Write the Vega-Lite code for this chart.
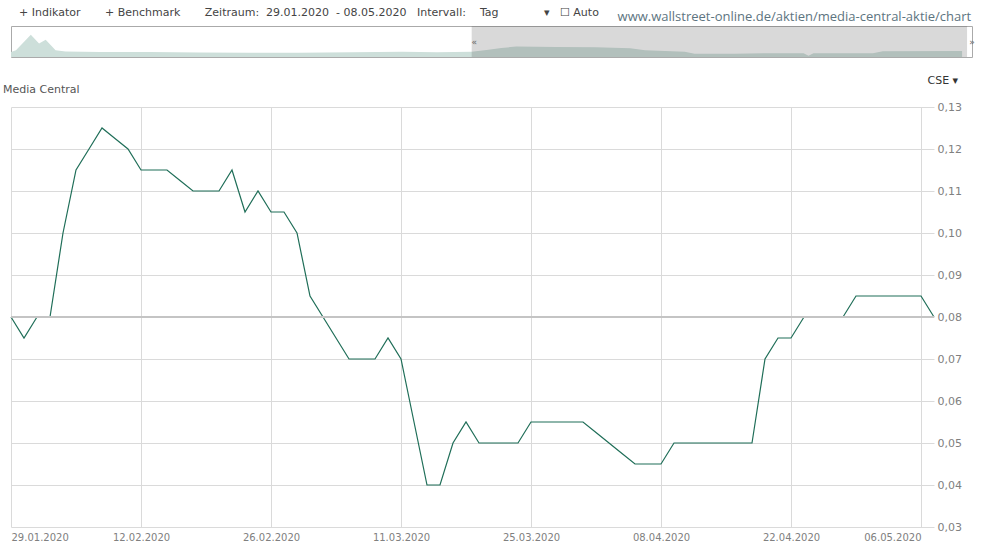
{
  "$schema": "https://vega.github.io/schema/vega-lite/v6.json",
  "padding": {"left": 3, "top": 6, "right": 0, "bottom": 0},
  "background": "white",
  "bounds": "flush",
  "spacing": 50,
  "title": {
    "text": "www.wallstreet-online.de/aktien/media-central-aktie/chart",
    "anchor": "end",
    "frame": "bounds",
    "font": "Open Sans",
    "fontSize": 13,
    "color": "#5d7480",
    "dx": -4,
    "offset": -17
  },
  "config": {
    "font": "DejaVu Sans",
    "axis": {"domain": false, "ticks": false, "gridColor": "#dadada", "gridWidth": 1, "labelColor": "#808080", "labelFont": "DejaVu Sans", "labelFontSize": 10},
    "title": {"font": "DejaVu Sans", "fontWeight": "normal"}
  },
  "datasets": {
    "nav": [
      {"date": "2019-10-28", "v": 0.06},
      {"date": "2019-10-29", "v": 0.08},
      {"date": "2019-11-01", "v": 0.265},
      {"date": "2019-11-02T16:00", "v": 0.16},
      {"date": "2019-11-04", "v": 0.205},
      {"date": "2019-11-06", "v": 0.08},
      {"date": "2019-11-08", "v": 0.065},
      {"date": "2019-11-15", "v": 0.06},
      {"date": "2019-11-25", "v": 0.06},
      {"date": "2019-12-05", "v": 0.055},
      {"date": "2019-12-15", "v": 0.05},
      {"date": "2019-12-25", "v": 0.052},
      {"date": "2020-01-05", "v": 0.057},
      {"date": "2020-01-15", "v": 0.062},
      {"date": "2020-01-22", "v": 0.058},
      {"date": "2020-01-29", "v": 0.064},
      {"date": "2020-02-01", "v": 0.084},
      {"date": "2020-02-04", "v": 0.108},
      {"date": "2020-02-07", "v": 0.124},
      {"date": "2020-02-15", "v": 0.12},
      {"date": "2020-02-23", "v": 0.117},
      {"date": "2020-03-01", "v": 0.105},
      {"date": "2020-03-04", "v": 0.081},
      {"date": "2020-03-12", "v": 0.064},
      {"date": "2020-03-14", "v": 0.038},
      {"date": "2020-03-22", "v": 0.04},
      {"date": "2020-03-30", "v": 0.045},
      {"date": "2020-04-05", "v": 0.045},
      {"date": "2020-04-06", "v": 0.016},
      {"date": "2020-04-07", "v": 0.045},
      {"date": "2020-04-19", "v": 0.045},
      {"date": "2020-04-21", "v": 0.068},
      {"date": "2020-05-07", "v": 0.072}
    ],
    "price": [
      {"date": "29.01.2020", "price": 0.08},
      {"date": "30.01.2020", "price": 0.075},
      {"date": "31.01.2020", "price": 0.08},
      {"date": "03.02.2020", "price": 0.08},
      {"date": "04.02.2020", "price": 0.10},
      {"date": "05.02.2020", "price": 0.115},
      {"date": "06.02.2020", "price": 0.12},
      {"date": "07.02.2020", "price": 0.125},
      {"date": "10.02.2020", "price": 0.1225},
      {"date": "11.02.2020", "price": 0.12},
      {"date": "12.02.2020", "price": 0.115},
      {"date": "13.02.2020", "price": 0.115},
      {"date": "14.02.2020", "price": 0.115},
      {"date": "17.02.2020", "price": 0.1125},
      {"date": "18.02.2020", "price": 0.11},
      {"date": "19.02.2020", "price": 0.11},
      {"date": "20.02.2020", "price": 0.11},
      {"date": "21.02.2020", "price": 0.115},
      {"date": "24.02.2020", "price": 0.105},
      {"date": "25.02.2020", "price": 0.11},
      {"date": "26.02.2020", "price": 0.105},
      {"date": "27.02.2020", "price": 0.105},
      {"date": "28.02.2020", "price": 0.10},
      {"date": "02.03.2020", "price": 0.085},
      {"date": "03.03.2020", "price": 0.08},
      {"date": "04.03.2020", "price": 0.075},
      {"date": "05.03.2020", "price": 0.07},
      {"date": "06.03.2020", "price": 0.07},
      {"date": "09.03.2020", "price": 0.07},
      {"date": "10.03.2020", "price": 0.075},
      {"date": "11.03.2020", "price": 0.07},
      {"date": "12.03.2020", "price": 0.055},
      {"date": "13.03.2020", "price": 0.04},
      {"date": "16.03.2020", "price": 0.04},
      {"date": "17.03.2020", "price": 0.05},
      {"date": "18.03.2020", "price": 0.055},
      {"date": "19.03.2020", "price": 0.05},
      {"date": "20.03.2020", "price": 0.05},
      {"date": "23.03.2020", "price": 0.05},
      {"date": "24.03.2020", "price": 0.05},
      {"date": "25.03.2020", "price": 0.055},
      {"date": "26.03.2020", "price": 0.055},
      {"date": "27.03.2020", "price": 0.055},
      {"date": "30.03.2020", "price": 0.055},
      {"date": "31.03.2020", "price": 0.055},
      {"date": "01.04.2020", "price": 0.0525},
      {"date": "02.04.2020", "price": 0.05},
      {"date": "03.04.2020", "price": 0.0475},
      {"date": "06.04.2020", "price": 0.045},
      {"date": "07.04.2020", "price": 0.045},
      {"date": "08.04.2020", "price": 0.045},
      {"date": "09.04.2020", "price": 0.05},
      {"date": "10.04.2020", "price": 0.05},
      {"date": "13.04.2020", "price": 0.05},
      {"date": "14.04.2020", "price": 0.05},
      {"date": "15.04.2020", "price": 0.05},
      {"date": "16.04.2020", "price": 0.05},
      {"date": "17.04.2020", "price": 0.05},
      {"date": "20.04.2020", "price": 0.07},
      {"date": "21.04.2020", "price": 0.075},
      {"date": "22.04.2020", "price": 0.075},
      {"date": "23.04.2020", "price": 0.08},
      {"date": "24.04.2020", "price": 0.08},
      {"date": "27.04.2020", "price": 0.08},
      {"date": "28.04.2020", "price": 0.08},
      {"date": "29.04.2020", "price": 0.085},
      {"date": "30.04.2020", "price": 0.085},
      {"date": "01.05.2020", "price": 0.085},
      {"date": "04.05.2020", "price": 0.085},
      {"date": "05.05.2020", "price": 0.085},
      {"date": "06.05.2020", "price": 0.085},
      {"date": "07.05.2020", "price": 0.08}
    ]
  },
  "vconcat": [
    {
      "width": 961,
      "height": 31,
      "view": {"stroke": "#aaaaaa"},
      "title": {
        "text": "+ Indikator\u00a0\u00a0\u00a0\u00a0\u00a0\u00a0\u00a0+ Benchmark\u00a0\u00a0\u00a0\u00a0\u00a0\u00a0\u00a0Zeitraum:\u00a0\u00a029.01.2020\u00a0\u00a0-\u00a008.05.2020\u00a0\u00a0\u00a0Intervall:\u00a0\u00a0\u00a0\u00a0Tag\u00a0\u00a0\u00a0\u00a0\u00a0\u00a0\u00a0\u00a0\u00a0\u00a0\u00a0\u00a0\u00a0\u25be\u00a0\u00a0\u00a0\u2610\u00a0Auto",
        "anchor": "start",
        "frame": "group",
        "fontSize": 11,
        "color": "#444444",
        "dx": 8,
        "offset": 8
      },
      "layer": [
        {
          "data": {"name": "nav"},
          "mark": {"type": "area", "color": "#cddfda"},
          "encoding": {
            "x": {"field": "date", "type": "temporal", "scale": {"domain": ["2019-10-28", "2020-05-09"]}, "axis": null},
            "y": {"field": "v", "type": "quantitative", "scale": {"domain": [0, 0.37]}, "axis": null}
          }
        },
        {
          "data": {"values": [{"from": "2020-01-29", "to": "2020-05-08"}]},
          "mark": {"type": "rect", "color": "#525252", "opacity": 0.22},
          "encoding": {
            "x": {"field": "from", "type": "temporal"},
            "x2": {"field": "to"}
          }
        },
        {
          "data": {"values": [{"date": "2020-01-29T12:00", "s": "\u00ab"}, {"date": "2020-05-09", "s": "\u00bb"}]},
          "mark": {"type": "text", "fontSize": 9, "color": "#666666"},
          "encoding": {
            "x": {"field": "date", "type": "temporal"},
            "text": {"field": "s"}
          }
        }
      ]
    },
    {
      "width": 923,
      "height": 420,
      "view": {"stroke": null},
      "title": {"text": "Media Central", "anchor": "start", "frame": "group", "fontSize": 11, "color": "#555555", "dx": -8, "offset": -21},
      "data": {"name": "price"},
      "layer": [
        {
          "mark": {"type": "line", "color": "#1f6e58", "strokeWidth": 1.2},
          "encoding": {
            "x": {
              "field": "date", "type": "ordinal", "sort": null,
              "scale": {"type": "point", "padding": 0},
              "axis": {
                "values": ["29.01.2020", "12.02.2020", "26.02.2020", "11.03.2020", "25.03.2020", "08.04.2020", "22.04.2020", "06.05.2020"],
                "grid": true, "title": null, "labelAngle": 0, "labelPadding": 5, "labelOverlap": false,
                "labelFlush": 15
              }
            },
            "y": {
              "field": "price", "type": "quantitative",
              "scale": {"domain": [0.03, 0.13], "zero": false, "nice": false},
              "axis": {
                "orient": "right",
                "values": [0.03, 0.04, 0.05, 0.06, 0.07, 0.08, 0.09, 0.10, 0.11, 0.12, 0.13],
                "labelExpr": "replace(format(datum.value, '.2f'), '.', ',')",
                "labelPadding": 3, "labelFontSize": 11,
                "title": "CSE \u25be", "titleAngle": 0, "titleAlign": "left", "titleBaseline": "middle",
                "titleX": -7, "titleY": -27, "titleFontSize": 11, "titleColor": "#333333", "titleFontWeight": "normal"
              }
            }
          }
        },
        {
          "data": {"values": [{"ref": 0.08}]},
          "mark": {"type": "rule", "color": "#c4c4c4", "strokeWidth": 2},
          "encoding": {"y": {"field": "ref", "type": "quantitative"}}
        }
      ]
    }
  ]
}
